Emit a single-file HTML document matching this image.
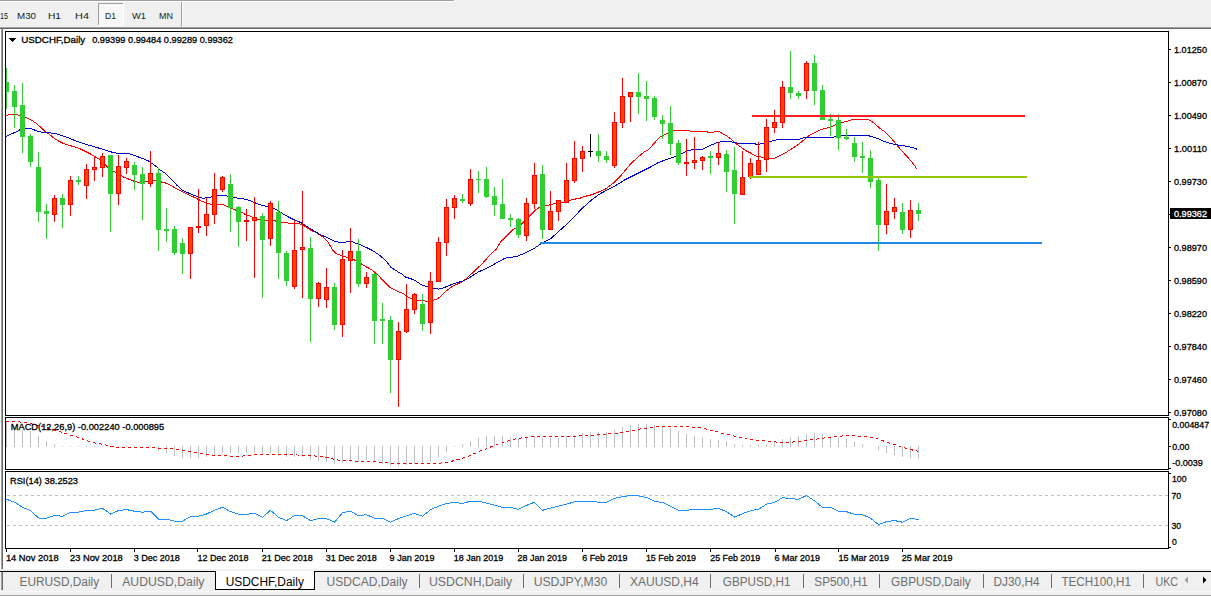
<!DOCTYPE html>
<html><head><meta charset="utf-8"><style>
html,body{margin:0;padding:0;width:1211px;height:596px;overflow:hidden;background:#fff}
svg{display:block}
text{font-family:'Liberation Sans', sans-serif;}
</style></head><body>
<svg width="1211" height="596" viewBox="0 0 1211 596" shape-rendering="crispEdges">
<defs><clipPath id="cmain"><rect x="6" y="32" width="1162" height="383"/></clipPath></defs>
<rect x="0" y="0" width="1211" height="29" fill="#f0f0f0"/>
<rect x="0" y="0" width="455" height="1" fill="#a0a0a0"/>
<rect x="0" y="1" width="455" height="1" fill="#ffffff"/>
<rect x="454" y="0" width="1" height="2" fill="#ffffff"/>
<rect x="98" y="3" width="26" height="23" fill="#f7f7f7"/>
<rect x="98" y="3" width="26" height="1" fill="#a0a0a0"/>
<rect x="98" y="3" width="1" height="23" fill="#a0a0a0"/>
<rect x="123" y="3" width="1" height="23" fill="#ffffff"/>
<rect x="98" y="25" width="26" height="1" fill="#ffffff"/>
<rect x="181" y="2" width="1" height="25" fill="#a0a0a0"/>
<rect x="182" y="2" width="1" height="25" fill="#ffffff"/>
<text x="0" y="19" font-size="9.6" fill="#1a1a1a" textLength="8" lengthAdjust="spacingAndGlyphs">15</text>
<text x="17" y="19" font-size="9.6" fill="#1a1a1a" textLength="19" lengthAdjust="spacingAndGlyphs">M30</text>
<text x="48" y="19" font-size="9.6" fill="#1a1a1a" textLength="13" lengthAdjust="spacingAndGlyphs">H1</text>
<text x="75" y="19" font-size="9.6" fill="#1a1a1a" textLength="14" lengthAdjust="spacingAndGlyphs">H4</text>
<text x="105" y="19" font-size="9.6" fill="#1a1a1a" textLength="11" lengthAdjust="spacingAndGlyphs">D1</text>
<text x="132" y="19" font-size="9.6" fill="#1a1a1a" textLength="14" lengthAdjust="spacingAndGlyphs">W1</text>
<text x="159" y="19" font-size="9.6" fill="#1a1a1a" textLength="14" lengthAdjust="spacingAndGlyphs">MN</text>
<rect x="0" y="27" width="1211" height="1" fill="#a0a0a0"/>
<rect x="0" y="28" width="1211" height="1" fill="#696969"/>
<rect x="0" y="29" width="1211" height="540" fill="#ffffff"/>
<rect x="1" y="29" width="1" height="541" fill="#a0a0a0"/>
<rect x="2" y="29" width="1" height="541" fill="#696969"/>
<g id="lines">
<line x1="7" y1="495.5" x2="1168" y2="495.5" stroke="#c0c0c0" stroke-width="1" stroke-dasharray="3 3" shape-rendering="crispEdges"/>
<line x1="7" y1="525.5" x2="1168" y2="525.5" stroke="#c0c0c0" stroke-width="1" stroke-dasharray="3 3" shape-rendering="crispEdges"/>
</g>
<g clip-path="url(#cmain)">
<polyline points="5.9,115.6 10.6,114.4 15.3,114.4 20.0,115.6 24.7,116.8 30.6,119.7 35.3,122.6 40.0,126.7 44.7,131.1 49.4,134.4 55.2,139.1 61.1,142.4 65.8,144.4 72.9,146.4 80.0,148.8 85.9,151.7 91.8,154.7 96.5,157.6 100.6,160.0 104.7,164.1 108.2,167.6 114.1,171.7 118.8,174.1 123.5,177.0 129.4,179.4 135.2,181.7 139.9,182.6 145.8,181.7 152.9,180.5 157.6,181.3 164.7,182.6 171.8,185.9 177.6,189.4 183.5,192.3 189.4,195.3 195.3,197.8 201.1,200.9 207.0,203.2 211.7,204.4 218.8,204.1 224.6,205.2 230.5,208.2 235.2,209.9 240.0,211.5 245.0,214.2 250.1,216.0 255.1,218.4 259.1,219.7 266.2,220.2 273.2,220.2 278.3,222.0 284.3,222.2 289.3,223.2 298.4,223.5 302.4,224.7 306.5,227.3 310.5,230.1 316.5,232.8 320.6,235.5 324.6,238.3 327.6,241.4 330.0,245.5 333.5,251.2 337.0,254.1 342.9,256.1 347.6,257.6 353.5,259.6 358.2,261.7 362.9,265.0 368.8,268.2 373.5,271.1 378.2,275.2 382.9,280.5 389.9,287.6 395.8,290.5 402.9,293.5 410.0,298.2 418.1,300.6 427.5,301.2 434.2,299.9 438.2,298.5 442.3,294.5 447.6,289.8 454.4,285.1 461.1,282.7 466.5,278.4 474.5,271.0 482.6,263.3 490.3,254.5 496.0,249.5 500.6,241.9 505.1,237.4 512.7,229.8 520.2,225.3 529.3,216.3 535.3,210.2 539.8,207.2 547.4,205.4 556.5,203.0 565.5,201.9 573.1,199.3 579.0,198.6 583.4,196.8 591.8,194.7 600.2,191.3 606.0,188.8 613.6,182.9 620.3,176.2 625.3,170.3 630.4,164.0 637.1,157.8 643.8,152.2 648.8,149.4 655.5,141.8 660.3,137.0 664.7,134.7 669.4,132.3 674.1,130.6 689.4,130.9 691.7,131.4 705.8,131.4 708.2,132.3 712.9,132.3 715.2,131.4 718.8,131.4 722.3,133.5 725.8,135.3 730.5,138.8 735.2,143.1 739.9,146.4 745.4,150.4 751.0,153.3 757.1,156.5 763.1,157.3 769.2,158.3 774.2,158.3 778.2,156.5 784.3,153.5 790.3,149.8 797.4,145.2 802.4,141.2 807.4,136.7 813.5,133.2 819.5,130.1 825.6,128.3 830.3,127.2 834.4,125.3 840.9,122.9 846.4,121.5 852.9,119.3 866.0,119.3 870.3,120.4 874.7,123.6 879.1,127.7 884.5,131.6 890.0,136.7 895.4,143.3 900.9,149.8 906.3,155.8 911.8,161.8 917.2,169.4" fill="none" stroke="#ff0000" stroke-width="1" shape-rendering="crispEdges"/>
<polyline points="5.9,136.5 11.8,133.8 17.6,131.1 20.0,129.7 24.7,128.5 31.1,128.5 37.6,131.4 44.7,132.6 54.1,133.2 61.1,135.3 69.3,138.1 75.2,140.8 80.0,142.4 87.1,144.7 94.1,146.7 101.2,148.8 108.2,151.2 115.3,152.9 120.0,153.5 128.2,153.5 134.1,155.3 141.1,158.0 148.2,160.8 152.9,164.1 157.6,167.4 160.0,169.8 164.7,172.9 171.8,180.0 177.6,185.9 182.3,190.3 188.2,192.9 194.1,195.3 198.8,197.4 203.5,198.2 209.4,197.4 218.8,195.3 225.8,195.5 230.5,197.4 240.0,198.3 246.0,199.3 250.1,200.6 256.1,203.3 262.2,205.6 267.2,206.3 273.2,208.3 279.3,211.3 284.3,214.7 289.3,217.4 295.4,220.4 300.4,222.4 304.5,224.7 309.5,228.3 314.5,231.1 320.6,234.8 326.6,237.3 330.0,239.0 334.7,241.4 339.4,242.3 345.3,242.3 347.6,241.4 351.2,241.4 355.9,243.2 360.6,245.0 365.3,247.0 371.1,249.7 377.0,253.5 381.7,257.0 386.4,261.5 391.1,267.6 395.8,270.5 401.7,274.0 406.4,277.6 410.0,278.3 415.4,280.8 420.8,284.4 426.1,286.5 432.8,288.1 438.2,289.1 443.6,287.8 450.3,285.1 457.0,282.7 463.8,280.8 470.5,277.0 478.5,271.9 485.3,269.0 491.5,265.7 497.6,262.3 505.1,258.2 517.2,256.3 526.3,252.5 535.3,247.7 541.4,243.4 550.4,238.9 558.0,232.1 565.5,225.3 571.6,219.6 576.1,214.7 583.4,207.2 591.8,199.7 598.5,194.7 606.9,190.1 615.3,185.8 625.3,179.6 633.7,175.4 642.1,171.2 650.5,167.0 658.9,162.3 667.0,159.4 675.3,156.4 681.2,153.7 688.2,150.5 695.3,149.4 702.3,149.4 709.4,145.8 716.4,142.9 722.3,141.5 730.5,141.7 735.2,142.7 739.9,143.5 750.0,143.5 755.1,143.7 756.1,144.4 760.1,144.0 764.1,143.2 769.2,141.7 773.2,140.7 778.2,139.4 799.4,139.4 801.4,138.4 805.4,137.4 833.6,137.4 834.4,136.2 842.0,135.3 866.0,135.3 871.4,136.4 878.0,138.6 884.5,141.6 891.1,143.6 897.6,144.9 906.3,146.2 912.9,147.6 917.2,149.3" fill="none" stroke="#0000cd" stroke-width="1" shape-rendering="crispEdges"/>
<rect x="6" y="68" width="1" height="41" fill="#32cd32"/>
<rect x="4" y="82" width="5" height="10" fill="#32cd32"/>
<rect x="14" y="85" width="1" height="43" fill="#32cd32"/>
<rect x="12" y="91" width="5" height="16" fill="#32cd32"/>
<rect x="22" y="83" width="1" height="70" fill="#32cd32"/>
<rect x="20" y="105" width="5" height="32" fill="#32cd32"/>
<rect x="30" y="134" width="1" height="33" fill="#32cd32"/>
<rect x="28" y="136" width="5" height="26" fill="#32cd32"/>
<rect x="38" y="152" width="1" height="70" fill="#32cd32"/>
<rect x="36" y="167" width="5" height="45" fill="#32cd32"/>
<rect x="46" y="204" width="1" height="35" fill="#32cd32"/>
<rect x="44" y="211" width="5" height="3" fill="#32cd32"/>
<rect x="54" y="195" width="1" height="27" fill="#ff0000"/>
<rect x="52" y="198" width="5" height="17" fill="#ff0000"/>
<rect x="53" y="199" width="3" height="15" fill="#ff4500"/>
<rect x="62" y="194" width="1" height="34" fill="#32cd32"/>
<rect x="60" y="198" width="5" height="7" fill="#32cd32"/>
<rect x="70" y="176" width="1" height="40" fill="#ff0000"/>
<rect x="68" y="180" width="5" height="25" fill="#ff0000"/>
<rect x="69" y="181" width="3" height="23" fill="#ff4500"/>
<rect x="78" y="176" width="1" height="9" fill="#32cd32"/>
<rect x="76" y="180" width="5" height="2" fill="#32cd32"/>
<rect x="86" y="164" width="1" height="35" fill="#ff0000"/>
<rect x="84" y="169" width="5" height="17" fill="#ff0000"/>
<rect x="85" y="170" width="3" height="15" fill="#ff4500"/>
<rect x="94" y="156" width="1" height="25" fill="#ff0000"/>
<rect x="92" y="167" width="5" height="3" fill="#ff0000"/>
<rect x="93" y="168" width="3" height="1" fill="#ff4500"/>
<rect x="102" y="153" width="1" height="24" fill="#ff0000"/>
<rect x="100" y="156" width="5" height="12" fill="#ff0000"/>
<rect x="101" y="157" width="3" height="10" fill="#ff4500"/>
<rect x="110" y="155" width="1" height="77" fill="#32cd32"/>
<rect x="108" y="155" width="5" height="39" fill="#32cd32"/>
<rect x="118" y="155" width="1" height="50" fill="#ff0000"/>
<rect x="116" y="166" width="5" height="28" fill="#ff0000"/>
<rect x="117" y="167" width="3" height="26" fill="#ff4500"/>
<rect x="126" y="158" width="1" height="16" fill="#ff0000"/>
<rect x="124" y="161" width="5" height="7" fill="#ff0000"/>
<rect x="125" y="162" width="3" height="5" fill="#ff4500"/>
<rect x="134" y="162" width="1" height="28" fill="#32cd32"/>
<rect x="132" y="165" width="5" height="10" fill="#32cd32"/>
<rect x="142" y="167" width="1" height="53" fill="#32cd32"/>
<rect x="140" y="174" width="5" height="10" fill="#32cd32"/>
<rect x="150" y="151" width="1" height="36" fill="#ff0000"/>
<rect x="148" y="173" width="5" height="11" fill="#ff0000"/>
<rect x="149" y="174" width="3" height="9" fill="#ff4500"/>
<rect x="158" y="168" width="1" height="83" fill="#32cd32"/>
<rect x="156" y="173" width="5" height="57" fill="#32cd32"/>
<rect x="166" y="208" width="1" height="34" fill="#32cd32"/>
<rect x="164" y="229" width="5" height="2" fill="#32cd32"/>
<rect x="174" y="226" width="1" height="29" fill="#32cd32"/>
<rect x="172" y="229" width="5" height="24" fill="#32cd32"/>
<rect x="182" y="238" width="1" height="36" fill="#32cd32"/>
<rect x="180" y="243" width="5" height="11" fill="#32cd32"/>
<rect x="190" y="227" width="1" height="52" fill="#ff0000"/>
<rect x="188" y="227" width="5" height="27" fill="#ff0000"/>
<rect x="189" y="228" width="3" height="25" fill="#ff4500"/>
<rect x="198" y="189" width="1" height="44" fill="#ff0000"/>
<rect x="196" y="226" width="5" height="2" fill="#ff0000"/>
<rect x="206" y="198" width="1" height="38" fill="#ff0000"/>
<rect x="204" y="214" width="5" height="12" fill="#ff0000"/>
<rect x="205" y="215" width="3" height="10" fill="#ff4500"/>
<rect x="214" y="173" width="1" height="51" fill="#ff0000"/>
<rect x="212" y="189" width="5" height="26" fill="#ff0000"/>
<rect x="213" y="190" width="3" height="24" fill="#ff4500"/>
<rect x="222" y="176" width="1" height="16" fill="#ff0000"/>
<rect x="220" y="177" width="5" height="13" fill="#ff0000"/>
<rect x="221" y="178" width="3" height="11" fill="#ff4500"/>
<rect x="230" y="174" width="1" height="58" fill="#32cd32"/>
<rect x="228" y="184" width="5" height="24" fill="#32cd32"/>
<rect x="238" y="206" width="1" height="41" fill="#32cd32"/>
<rect x="236" y="207" width="5" height="15" fill="#32cd32"/>
<rect x="246" y="209" width="1" height="32" fill="#ff0000"/>
<rect x="244" y="220" width="5" height="2" fill="#ff0000"/>
<rect x="254" y="197" width="1" height="81" fill="#ff0000"/>
<rect x="252" y="217" width="5" height="4" fill="#ff0000"/>
<rect x="253" y="218" width="3" height="2" fill="#ff4500"/>
<rect x="262" y="213" width="1" height="85" fill="#32cd32"/>
<rect x="260" y="216" width="5" height="24" fill="#32cd32"/>
<rect x="270" y="201" width="1" height="45" fill="#ff0000"/>
<rect x="268" y="203" width="5" height="36" fill="#ff0000"/>
<rect x="269" y="204" width="3" height="34" fill="#ff4500"/>
<rect x="278" y="201" width="1" height="78" fill="#32cd32"/>
<rect x="276" y="212" width="5" height="41" fill="#32cd32"/>
<rect x="286" y="251" width="1" height="35" fill="#32cd32"/>
<rect x="284" y="253" width="5" height="28" fill="#32cd32"/>
<rect x="294" y="220" width="1" height="69" fill="#ff0000"/>
<rect x="292" y="250" width="5" height="37" fill="#ff0000"/>
<rect x="293" y="251" width="3" height="35" fill="#ff4500"/>
<rect x="302" y="191" width="1" height="107" fill="#ff0000"/>
<rect x="300" y="247" width="5" height="3" fill="#ff0000"/>
<rect x="301" y="248" width="3" height="1" fill="#ff4500"/>
<rect x="310" y="237" width="1" height="105" fill="#32cd32"/>
<rect x="308" y="248" width="5" height="51" fill="#32cd32"/>
<rect x="318" y="282" width="1" height="25" fill="#ff0000"/>
<rect x="316" y="283" width="5" height="16" fill="#ff0000"/>
<rect x="317" y="284" width="3" height="14" fill="#ff4500"/>
<rect x="326" y="268" width="1" height="40" fill="#ff0000"/>
<rect x="324" y="287" width="5" height="13" fill="#ff0000"/>
<rect x="325" y="288" width="3" height="11" fill="#ff4500"/>
<rect x="334" y="283" width="1" height="47" fill="#32cd32"/>
<rect x="332" y="287" width="5" height="38" fill="#32cd32"/>
<rect x="342" y="250" width="1" height="87" fill="#ff0000"/>
<rect x="340" y="259" width="5" height="66" fill="#ff0000"/>
<rect x="341" y="260" width="3" height="64" fill="#ff4500"/>
<rect x="350" y="228" width="1" height="65" fill="#ff0000"/>
<rect x="348" y="251" width="5" height="10" fill="#ff0000"/>
<rect x="349" y="252" width="3" height="8" fill="#ff4500"/>
<rect x="358" y="239" width="1" height="48" fill="#32cd32"/>
<rect x="356" y="251" width="5" height="33" fill="#32cd32"/>
<rect x="366" y="272" width="1" height="16" fill="#ff0000"/>
<rect x="364" y="277" width="5" height="7" fill="#ff0000"/>
<rect x="365" y="278" width="3" height="5" fill="#ff4500"/>
<rect x="374" y="273" width="1" height="71" fill="#32cd32"/>
<rect x="372" y="274" width="5" height="47" fill="#32cd32"/>
<rect x="382" y="303" width="1" height="41" fill="#32cd32"/>
<rect x="380" y="319" width="5" height="2" fill="#32cd32"/>
<rect x="390" y="316" width="1" height="77" fill="#32cd32"/>
<rect x="388" y="320" width="5" height="40" fill="#32cd32"/>
<rect x="398" y="322" width="1" height="85" fill="#ff0000"/>
<rect x="396" y="331" width="5" height="29" fill="#ff0000"/>
<rect x="397" y="332" width="3" height="27" fill="#ff4500"/>
<rect x="406" y="284" width="1" height="49" fill="#ff0000"/>
<rect x="404" y="309" width="5" height="23" fill="#ff0000"/>
<rect x="405" y="310" width="3" height="21" fill="#ff4500"/>
<rect x="414" y="293" width="1" height="21" fill="#ff0000"/>
<rect x="412" y="294" width="5" height="16" fill="#ff0000"/>
<rect x="413" y="295" width="3" height="14" fill="#ff4500"/>
<rect x="422" y="294" width="1" height="37" fill="#32cd32"/>
<rect x="420" y="304" width="5" height="20" fill="#32cd32"/>
<rect x="430" y="272" width="1" height="62" fill="#ff0000"/>
<rect x="428" y="281" width="5" height="42" fill="#ff0000"/>
<rect x="429" y="282" width="3" height="40" fill="#ff4500"/>
<rect x="438" y="237" width="1" height="45" fill="#ff0000"/>
<rect x="436" y="242" width="5" height="40" fill="#ff0000"/>
<rect x="437" y="243" width="3" height="38" fill="#ff4500"/>
<rect x="446" y="199" width="1" height="57" fill="#ff0000"/>
<rect x="444" y="207" width="5" height="36" fill="#ff0000"/>
<rect x="445" y="208" width="3" height="34" fill="#ff4500"/>
<rect x="454" y="195" width="1" height="24" fill="#ff0000"/>
<rect x="452" y="198" width="5" height="10" fill="#ff0000"/>
<rect x="453" y="199" width="3" height="8" fill="#ff4500"/>
<rect x="462" y="194" width="1" height="9" fill="#32cd32"/>
<rect x="460" y="199" width="5" height="2" fill="#32cd32"/>
<rect x="470" y="169" width="1" height="37" fill="#ff0000"/>
<rect x="468" y="179" width="5" height="25" fill="#ff0000"/>
<rect x="469" y="180" width="3" height="23" fill="#ff4500"/>
<rect x="478" y="171" width="1" height="22" fill="#32cd32"/>
<rect x="476" y="179" width="5" height="1" fill="#32cd32"/>
<rect x="486" y="167" width="1" height="31" fill="#32cd32"/>
<rect x="484" y="179" width="5" height="18" fill="#32cd32"/>
<rect x="494" y="187" width="1" height="29" fill="#32cd32"/>
<rect x="492" y="196" width="5" height="9" fill="#32cd32"/>
<rect x="502" y="179" width="1" height="40" fill="#32cd32"/>
<rect x="500" y="204" width="5" height="15" fill="#32cd32"/>
<rect x="510" y="214" width="1" height="13" fill="#32cd32"/>
<rect x="508" y="218" width="5" height="2" fill="#32cd32"/>
<rect x="518" y="218" width="1" height="20" fill="#32cd32"/>
<rect x="516" y="219" width="5" height="16" fill="#32cd32"/>
<rect x="526" y="198" width="1" height="43" fill="#ff0000"/>
<rect x="524" y="203" width="5" height="33" fill="#ff0000"/>
<rect x="525" y="204" width="3" height="31" fill="#ff4500"/>
<rect x="534" y="163" width="1" height="46" fill="#ff0000"/>
<rect x="532" y="175" width="5" height="29" fill="#ff0000"/>
<rect x="533" y="176" width="3" height="27" fill="#ff4500"/>
<rect x="542" y="165" width="1" height="74" fill="#32cd32"/>
<rect x="540" y="174" width="5" height="56" fill="#32cd32"/>
<rect x="550" y="191" width="1" height="39" fill="#ff0000"/>
<rect x="548" y="211" width="5" height="19" fill="#ff0000"/>
<rect x="549" y="212" width="3" height="17" fill="#ff4500"/>
<rect x="558" y="200" width="1" height="21" fill="#ff0000"/>
<rect x="556" y="200" width="5" height="12" fill="#ff0000"/>
<rect x="557" y="201" width="3" height="10" fill="#ff4500"/>
<rect x="566" y="163" width="1" height="40" fill="#ff0000"/>
<rect x="564" y="180" width="5" height="23" fill="#ff0000"/>
<rect x="565" y="181" width="3" height="21" fill="#ff4500"/>
<rect x="574" y="141" width="1" height="42" fill="#ff0000"/>
<rect x="572" y="158" width="5" height="23" fill="#ff0000"/>
<rect x="573" y="159" width="3" height="21" fill="#ff4500"/>
<rect x="582" y="146" width="1" height="26" fill="#ff0000"/>
<rect x="580" y="151" width="5" height="8" fill="#ff0000"/>
<rect x="581" y="152" width="3" height="6" fill="#ff4500"/>
<rect x="590" y="134" width="1" height="23" fill="#000000"/>
<rect x="588" y="151" width="5" height="1" fill="#000000"/>
<rect x="598" y="134" width="1" height="28" fill="#32cd32"/>
<rect x="596" y="151" width="5" height="5" fill="#32cd32"/>
<rect x="606" y="151" width="1" height="12" fill="#32cd32"/>
<rect x="604" y="156" width="5" height="4" fill="#32cd32"/>
<rect x="614" y="112" width="1" height="56" fill="#ff0000"/>
<rect x="612" y="122" width="5" height="44" fill="#ff0000"/>
<rect x="613" y="123" width="3" height="42" fill="#ff4500"/>
<rect x="622" y="78" width="1" height="50" fill="#ff0000"/>
<rect x="620" y="96" width="5" height="27" fill="#ff0000"/>
<rect x="621" y="97" width="3" height="25" fill="#ff4500"/>
<rect x="630" y="92" width="1" height="30" fill="#ff0000"/>
<rect x="628" y="92" width="5" height="5" fill="#ff0000"/>
<rect x="629" y="93" width="3" height="3" fill="#ff4500"/>
<rect x="638" y="73" width="1" height="41" fill="#32cd32"/>
<rect x="636" y="92" width="5" height="5" fill="#32cd32"/>
<rect x="646" y="81" width="1" height="40" fill="#32cd32"/>
<rect x="644" y="96" width="5" height="3" fill="#32cd32"/>
<rect x="654" y="96" width="1" height="24" fill="#32cd32"/>
<rect x="652" y="98" width="5" height="19" fill="#32cd32"/>
<rect x="662" y="115" width="1" height="24" fill="#32cd32"/>
<rect x="660" y="120" width="5" height="4" fill="#32cd32"/>
<rect x="670" y="106" width="1" height="49" fill="#32cd32"/>
<rect x="668" y="123" width="5" height="21" fill="#32cd32"/>
<rect x="678" y="140" width="1" height="25" fill="#32cd32"/>
<rect x="676" y="143" width="5" height="20" fill="#32cd32"/>
<rect x="686" y="139" width="1" height="37" fill="#ff0000"/>
<rect x="684" y="162" width="5" height="2" fill="#ff0000"/>
<rect x="694" y="137" width="1" height="32" fill="#ff0000"/>
<rect x="692" y="160" width="5" height="3" fill="#ff0000"/>
<rect x="693" y="161" width="3" height="1" fill="#ff4500"/>
<rect x="702" y="156" width="1" height="14" fill="#ff0000"/>
<rect x="700" y="157" width="5" height="4" fill="#ff0000"/>
<rect x="701" y="158" width="3" height="2" fill="#ff4500"/>
<rect x="710" y="151" width="1" height="23" fill="#32cd32"/>
<rect x="708" y="156" width="5" height="2" fill="#32cd32"/>
<rect x="718" y="142" width="1" height="23" fill="#ff0000"/>
<rect x="716" y="153" width="5" height="5" fill="#ff0000"/>
<rect x="717" y="154" width="3" height="3" fill="#ff4500"/>
<rect x="726" y="150" width="1" height="42" fill="#32cd32"/>
<rect x="724" y="154" width="5" height="18" fill="#32cd32"/>
<rect x="734" y="147" width="1" height="77" fill="#32cd32"/>
<rect x="732" y="170" width="5" height="24" fill="#32cd32"/>
<rect x="742" y="151" width="1" height="44" fill="#ff0000"/>
<rect x="740" y="177" width="5" height="18" fill="#ff0000"/>
<rect x="741" y="178" width="3" height="16" fill="#ff4500"/>
<rect x="750" y="158" width="1" height="21" fill="#ff0000"/>
<rect x="748" y="163" width="5" height="14" fill="#ff0000"/>
<rect x="749" y="164" width="3" height="12" fill="#ff4500"/>
<rect x="758" y="142" width="1" height="33" fill="#ff0000"/>
<rect x="756" y="160" width="5" height="15" fill="#ff0000"/>
<rect x="757" y="161" width="3" height="13" fill="#ff4500"/>
<rect x="766" y="119" width="1" height="53" fill="#ff0000"/>
<rect x="764" y="127" width="5" height="33" fill="#ff0000"/>
<rect x="765" y="128" width="3" height="31" fill="#ff4500"/>
<rect x="774" y="110" width="1" height="23" fill="#ff0000"/>
<rect x="772" y="122" width="5" height="6" fill="#ff0000"/>
<rect x="773" y="123" width="3" height="4" fill="#ff4500"/>
<rect x="782" y="81" width="1" height="47" fill="#ff0000"/>
<rect x="780" y="87" width="5" height="36" fill="#ff0000"/>
<rect x="781" y="88" width="3" height="34" fill="#ff4500"/>
<rect x="790" y="51" width="1" height="48" fill="#32cd32"/>
<rect x="788" y="87" width="5" height="6" fill="#32cd32"/>
<rect x="798" y="91" width="1" height="8" fill="#32cd32"/>
<rect x="796" y="93" width="5" height="3" fill="#32cd32"/>
<rect x="806" y="61" width="1" height="38" fill="#ff0000"/>
<rect x="804" y="63" width="5" height="28" fill="#ff0000"/>
<rect x="805" y="64" width="3" height="26" fill="#ff4500"/>
<rect x="814" y="55" width="1" height="50" fill="#32cd32"/>
<rect x="812" y="63" width="5" height="28" fill="#32cd32"/>
<rect x="822" y="85" width="1" height="35" fill="#32cd32"/>
<rect x="820" y="90" width="5" height="30" fill="#32cd32"/>
<rect x="830" y="114" width="1" height="22" fill="#32cd32"/>
<rect x="828" y="119" width="5" height="2" fill="#32cd32"/>
<rect x="838" y="114" width="1" height="36" fill="#32cd32"/>
<rect x="836" y="120" width="5" height="18" fill="#32cd32"/>
<rect x="846" y="129" width="1" height="11" fill="#32cd32"/>
<rect x="844" y="137" width="5" height="2" fill="#32cd32"/>
<rect x="854" y="137" width="1" height="25" fill="#32cd32"/>
<rect x="852" y="143" width="5" height="14" fill="#32cd32"/>
<rect x="862" y="142" width="1" height="31" fill="#32cd32"/>
<rect x="860" y="156" width="5" height="2" fill="#32cd32"/>
<rect x="870" y="150" width="1" height="38" fill="#32cd32"/>
<rect x="868" y="158" width="5" height="24" fill="#32cd32"/>
<rect x="878" y="178" width="1" height="73" fill="#32cd32"/>
<rect x="876" y="180" width="5" height="45" fill="#32cd32"/>
<rect x="886" y="184" width="1" height="50" fill="#ff0000"/>
<rect x="884" y="211" width="5" height="14" fill="#ff0000"/>
<rect x="885" y="212" width="3" height="12" fill="#ff4500"/>
<rect x="894" y="198" width="1" height="21" fill="#ff0000"/>
<rect x="892" y="207" width="5" height="5" fill="#ff0000"/>
<rect x="893" y="208" width="3" height="3" fill="#ff4500"/>
<rect x="902" y="203" width="1" height="31" fill="#32cd32"/>
<rect x="900" y="212" width="5" height="18" fill="#32cd32"/>
<rect x="910" y="200" width="1" height="38" fill="#ff0000"/>
<rect x="908" y="210" width="5" height="20" fill="#ff0000"/>
<rect x="909" y="211" width="3" height="18" fill="#ff4500"/>
<rect x="918" y="203" width="1" height="18" fill="#32cd32"/>
<rect x="916" y="210" width="5" height="4" fill="#32cd32"/>
</g>
<rect x="752" y="115" width="273" height="2" fill="#ff2020"/>
<rect x="749" y="176" width="278" height="2" fill="#93c800"/>
<rect x="540" y="242" width="502" height="2" fill="#2088e6"/>
<rect x="6" y="422" width="1" height="25" fill="#c0c0c0"/>
<rect x="14" y="429" width="1" height="18" fill="#c0c0c0"/>
<rect x="22" y="430" width="1" height="17" fill="#c0c0c0"/>
<rect x="30" y="431" width="1" height="16" fill="#c0c0c0"/>
<rect x="38" y="436" width="1" height="11" fill="#c0c0c0"/>
<rect x="46" y="441" width="1" height="6" fill="#c0c0c0"/>
<rect x="54" y="444" width="1" height="3" fill="#c0c0c0"/>
<rect x="62" y="446" width="1" height="1" fill="#c0c0c0"/>
<rect x="70" y="446" width="1" height="1" fill="#c0c0c0"/>
<rect x="78" y="446" width="1" height="1" fill="#c0c0c0"/>
<rect x="86" y="446" width="1" height="1" fill="#c0c0c0"/>
<rect x="94" y="446" width="1" height="1" fill="#c0c0c0"/>
<rect x="102" y="446" width="1" height="1" fill="#c0c0c0"/>
<rect x="110" y="446" width="1" height="1" fill="#c0c0c0"/>
<rect x="118" y="446" width="1" height="1" fill="#c0c0c0"/>
<rect x="126" y="446" width="1" height="1" fill="#c0c0c0"/>
<rect x="134" y="446" width="1" height="1" fill="#c0c0c0"/>
<rect x="142" y="446" width="1" height="1" fill="#c0c0c0"/>
<rect x="150" y="446" width="1" height="1" fill="#c0c0c0"/>
<rect x="158" y="446" width="1" height="5" fill="#c0c0c0"/>
<rect x="166" y="446" width="1" height="7" fill="#c0c0c0"/>
<rect x="174" y="446" width="1" height="10" fill="#c0c0c0"/>
<rect x="182" y="446" width="1" height="12" fill="#c0c0c0"/>
<rect x="190" y="446" width="1" height="12" fill="#c0c0c0"/>
<rect x="198" y="446" width="1" height="12" fill="#c0c0c0"/>
<rect x="206" y="446" width="1" height="11" fill="#c0c0c0"/>
<rect x="214" y="446" width="1" height="9" fill="#c0c0c0"/>
<rect x="222" y="446" width="1" height="7" fill="#c0c0c0"/>
<rect x="230" y="446" width="1" height="7" fill="#c0c0c0"/>
<rect x="238" y="446" width="1" height="7" fill="#c0c0c0"/>
<rect x="246" y="446" width="1" height="7" fill="#c0c0c0"/>
<rect x="254" y="446" width="1" height="7" fill="#c0c0c0"/>
<rect x="262" y="446" width="1" height="8" fill="#c0c0c0"/>
<rect x="270" y="446" width="1" height="7" fill="#c0c0c0"/>
<rect x="278" y="446" width="1" height="9" fill="#c0c0c0"/>
<rect x="286" y="446" width="1" height="11" fill="#c0c0c0"/>
<rect x="294" y="446" width="1" height="11" fill="#c0c0c0"/>
<rect x="302" y="446" width="1" height="11" fill="#c0c0c0"/>
<rect x="310" y="446" width="1" height="14" fill="#c0c0c0"/>
<rect x="318" y="446" width="1" height="15" fill="#c0c0c0"/>
<rect x="326" y="446" width="1" height="16" fill="#c0c0c0"/>
<rect x="334" y="446" width="1" height="18" fill="#c0c0c0"/>
<rect x="342" y="446" width="1" height="17" fill="#c0c0c0"/>
<rect x="350" y="446" width="1" height="16" fill="#c0c0c0"/>
<rect x="358" y="446" width="1" height="16" fill="#c0c0c0"/>
<rect x="366" y="446" width="1" height="14" fill="#c0c0c0"/>
<rect x="374" y="446" width="1" height="15" fill="#c0c0c0"/>
<rect x="382" y="446" width="1" height="18" fill="#c0c0c0"/>
<rect x="390" y="446" width="1" height="20" fill="#c0c0c0"/>
<rect x="398" y="446" width="1" height="20" fill="#c0c0c0"/>
<rect x="406" y="446" width="1" height="19" fill="#c0c0c0"/>
<rect x="414" y="446" width="1" height="18" fill="#c0c0c0"/>
<rect x="422" y="446" width="1" height="18" fill="#c0c0c0"/>
<rect x="430" y="446" width="1" height="16" fill="#c0c0c0"/>
<rect x="438" y="446" width="1" height="11" fill="#c0c0c0"/>
<rect x="446" y="446" width="1" height="6" fill="#c0c0c0"/>
<rect x="454" y="446" width="1" height="1" fill="#c0c0c0"/>
<rect x="462" y="444" width="1" height="3" fill="#c0c0c0"/>
<rect x="470" y="441" width="1" height="6" fill="#c0c0c0"/>
<rect x="478" y="438" width="1" height="9" fill="#c0c0c0"/>
<rect x="486" y="436" width="1" height="11" fill="#c0c0c0"/>
<rect x="494" y="436" width="1" height="11" fill="#c0c0c0"/>
<rect x="502" y="436" width="1" height="11" fill="#c0c0c0"/>
<rect x="510" y="437" width="1" height="10" fill="#c0c0c0"/>
<rect x="518" y="438" width="1" height="9" fill="#c0c0c0"/>
<rect x="526" y="438" width="1" height="9" fill="#c0c0c0"/>
<rect x="534" y="436" width="1" height="11" fill="#c0c0c0"/>
<rect x="542" y="438" width="1" height="9" fill="#c0c0c0"/>
<rect x="550" y="438" width="1" height="9" fill="#c0c0c0"/>
<rect x="558" y="438" width="1" height="9" fill="#c0c0c0"/>
<rect x="566" y="436" width="1" height="11" fill="#c0c0c0"/>
<rect x="574" y="435" width="1" height="12" fill="#c0c0c0"/>
<rect x="582" y="433" width="1" height="14" fill="#c0c0c0"/>
<rect x="590" y="432" width="1" height="15" fill="#c0c0c0"/>
<rect x="598" y="432" width="1" height="15" fill="#c0c0c0"/>
<rect x="606" y="432" width="1" height="15" fill="#c0c0c0"/>
<rect x="614" y="430" width="1" height="17" fill="#c0c0c0"/>
<rect x="622" y="427" width="1" height="20" fill="#c0c0c0"/>
<rect x="630" y="425" width="1" height="22" fill="#c0c0c0"/>
<rect x="638" y="424" width="1" height="23" fill="#c0c0c0"/>
<rect x="646" y="424" width="1" height="23" fill="#c0c0c0"/>
<rect x="654" y="425" width="1" height="22" fill="#c0c0c0"/>
<rect x="662" y="426" width="1" height="21" fill="#c0c0c0"/>
<rect x="670" y="428" width="1" height="19" fill="#c0c0c0"/>
<rect x="678" y="431" width="1" height="16" fill="#c0c0c0"/>
<rect x="686" y="434" width="1" height="13" fill="#c0c0c0"/>
<rect x="694" y="436" width="1" height="11" fill="#c0c0c0"/>
<rect x="702" y="437" width="1" height="10" fill="#c0c0c0"/>
<rect x="710" y="439" width="1" height="8" fill="#c0c0c0"/>
<rect x="718" y="440" width="1" height="7" fill="#c0c0c0"/>
<rect x="726" y="441" width="1" height="6" fill="#c0c0c0"/>
<rect x="734" y="444" width="1" height="3" fill="#c0c0c0"/>
<rect x="742" y="445" width="1" height="2" fill="#c0c0c0"/>
<rect x="750" y="445" width="1" height="2" fill="#c0c0c0"/>
<rect x="758" y="445" width="1" height="2" fill="#c0c0c0"/>
<rect x="766" y="444" width="1" height="3" fill="#c0c0c0"/>
<rect x="774" y="442" width="1" height="5" fill="#c0c0c0"/>
<rect x="782" y="439" width="1" height="8" fill="#c0c0c0"/>
<rect x="790" y="437" width="1" height="10" fill="#c0c0c0"/>
<rect x="798" y="436" width="1" height="11" fill="#c0c0c0"/>
<rect x="806" y="434" width="1" height="13" fill="#c0c0c0"/>
<rect x="814" y="433" width="1" height="14" fill="#c0c0c0"/>
<rect x="822" y="434" width="1" height="13" fill="#c0c0c0"/>
<rect x="830" y="436" width="1" height="11" fill="#c0c0c0"/>
<rect x="838" y="438" width="1" height="9" fill="#c0c0c0"/>
<rect x="846" y="439" width="1" height="8" fill="#c0c0c0"/>
<rect x="854" y="442" width="1" height="5" fill="#c0c0c0"/>
<rect x="862" y="444" width="1" height="3" fill="#c0c0c0"/>
<rect x="878" y="446" width="1" height="4" fill="#c0c0c0"/>
<rect x="886" y="446" width="1" height="7" fill="#c0c0c0"/>
<rect x="894" y="446" width="1" height="9" fill="#c0c0c0"/>
<rect x="902" y="446" width="1" height="11" fill="#c0c0c0"/>
<rect x="910" y="446" width="1" height="12" fill="#c0c0c0"/>
<rect x="918" y="446" width="1" height="13" fill="#c0c0c0"/>
<polyline points="6.0,421.4 13.6,421.4 19.0,421.9 26.3,422.5 48.9,428.2 61.6,432.3 67.9,434.1 73.4,436.1 79.3,437.7 85.3,440.1 91.2,442.2 97.1,443.4 103.8,444.4 109.8,446.0 115.7,447.4 152.1,447.4 158.0,448.3 170.0,448.6 175.9,449.3 181.8,450.2 187.8,451.5 193.7,452.3 199.7,453.3 205.6,454.2 211.6,455.3 223.4,455.6 229.4,456.2 242.0,456.2 246.0,455.4 261.7,454.6 285.5,454.6 297.4,455.0 309.3,455.6 317.2,456.2 327.1,457.6 333.0,459.0 341.0,460.6 352.9,460.6 358.8,461.8 372.7,461.6 380.6,462.6 398.4,463.6 438.0,463.4 448.0,462.2 457.9,459.6 462.0,458.2 470.0,455.6 479.8,451.1 487.7,448.3 494.7,445.1 505.6,441.8 511.5,439.8 517.5,438.4 529.4,437.2 535.3,436.2 571.0,436.4 586.8,435.6 598.7,434.8 610.6,433.8 624.5,432.2 632.4,430.5 638.4,429.3 648.3,427.9 656.2,426.9 668.0,426.5 687.9,426.5 693.8,427.3 703.9,428.3 709.8,430.0 715.8,431.2 721.7,433.2 727.7,434.4 733.6,435.8 741.5,437.8 747.5,439.2 757.4,440.4 769.3,441.4 779.2,442.3 791.0,442.3 797.0,441.4 808.9,440.2 818.8,438.8 828.7,437.4 840.6,436.2 846.6,435.4 858.4,436.2 872.3,437.4 880.2,439.8 888.2,442.7 896.1,444.7 902.0,447.3 908.0,448.7 914.9,450.7 918.0,451.2" fill="none" stroke="#ff0000" stroke-width="1" stroke-dasharray="3 3" shape-rendering="crispEdges"/>
<polyline points="6.5,499.3 14.5,502.1 22.5,507.3 30.5,510.6 38.5,518.0 46.5,518.2 54.5,515.6 62.5,516.2 70.5,512.2 78.5,512.2 86.5,510.6 94.5,510.2 102.5,508.2 110.5,514.0 118.5,510.6 126.5,509.6 134.5,511.2 142.5,512.2 150.5,511.2 158.5,519.1 166.5,519.1 174.5,521.1 182.5,521.1 190.5,516.6 198.5,516.2 206.5,514.0 214.5,510.2 222.5,507.3 230.5,511.6 238.5,514.3 246.5,514.3 254.5,513.3 262.5,517.3 270.5,510.3 278.5,517.3 286.5,520.6 294.5,515.7 302.5,515.7 310.5,520.6 318.5,518.6 326.5,518.6 334.5,522.2 342.5,512.7 350.5,511.1 358.5,515.7 366.5,514.7 374.5,518.2 382.5,518.2 390.5,522.2 398.5,518.6 406.5,515.7 414.5,513.3 422.5,516.3 430.5,509.7 438.5,506.2 446.5,503.4 454.5,502.4 462.5,503.4 470.5,501.2 478.5,501.2 486.5,503.2 494.5,505.2 502.5,507.3 510.5,507.3 518.5,509.3 526.5,505.4 534.5,502.2 542.5,510.3 550.5,508.1 558.5,506.2 566.5,504.2 574.5,501.8 590.5,501.2 598.5,502.2 606.5,502.2 614.5,498.2 622.5,496.8 630.5,495.3 638.5,495.9 646.5,497.4 654.5,501.4 662.5,502.4 670.5,506.2 678.5,510.3 686.5,510.3 694.5,509.3 710.5,509.3 718.5,508.3 726.5,511.7 734.5,517.1 742.5,513.7 750.5,510.7 758.5,509.3 766.5,504.2 774.5,502.4 782.5,497.8 790.5,498.4 798.5,499.4 806.5,495.5 814.5,500.8 822.5,507.3 830.5,507.3 838.5,511.1 846.5,511.7 854.5,514.3 862.5,514.7 870.5,518.2 878.5,524.6 886.5,521.6 894.5,520.6 902.5,522.2 910.5,518.2 918.5,519.6" fill="none" stroke="#1e90ff" stroke-width="1" shape-rendering="crispEdges"/>
<rect x="5" y="31" width="1164" height="1" fill="#000"/>
<rect x="5" y="415" width="1164" height="1" fill="#000"/>
<rect x="5" y="31" width="1" height="385" fill="#000"/>
<rect x="1168" y="31" width="1" height="385" fill="#000"/>
<rect x="5" y="417" width="1164" height="1" fill="#000"/>
<rect x="5" y="469" width="1164" height="1" fill="#000"/>
<rect x="5" y="417" width="1" height="53" fill="#000"/>
<rect x="1168" y="417" width="1" height="53" fill="#000"/>
<rect x="5" y="471" width="1164" height="1" fill="#000"/>
<rect x="5" y="548" width="1164" height="1" fill="#000"/>
<rect x="5" y="471" width="1" height="78" fill="#000"/>
<rect x="1168" y="471" width="1" height="78" fill="#000"/>
<path d="M9,38 L16,38 L12.5,42 Z" fill="#000"/>
<text x="21.3" y="43" font-size="9.6" fill="#000" stroke="#000" stroke-width="0.3" textLength="63.9" lengthAdjust="spacingAndGlyphs">USDCHF,Daily</text>
<text x="92.2" y="43" font-size="9.6" fill="#000" stroke="#000" stroke-width="0.3" textLength="140.8" lengthAdjust="spacingAndGlyphs">0.99399 0.99484 0.99289 0.99362</text>
<text x="10.7" y="430" font-size="9.6" fill="#000" stroke="#000" stroke-width="0.3" textLength="153.5" lengthAdjust="spacingAndGlyphs">MACD(12,26,9) -0.002240 -0.000895</text>
<text x="10" y="484" font-size="9.6" fill="#000" stroke="#000" stroke-width="0.3" textLength="68" lengthAdjust="spacingAndGlyphs">RSI(14) 38.2523</text>
<rect x="1169" y="49" width="2" height="1" fill="#000"/>
<text x="1174" y="53" font-size="9.6" fill="#000" stroke="#000" stroke-width="0.3" textLength="33" lengthAdjust="spacingAndGlyphs">1.01250</text>
<rect x="1169" y="82" width="2" height="1" fill="#000"/>
<text x="1174" y="86" font-size="9.6" fill="#000" stroke="#000" stroke-width="0.3" textLength="33" lengthAdjust="spacingAndGlyphs">1.00870</text>
<rect x="1169" y="115" width="2" height="1" fill="#000"/>
<text x="1174" y="119" font-size="9.6" fill="#000" stroke="#000" stroke-width="0.3" textLength="33" lengthAdjust="spacingAndGlyphs">1.00490</text>
<rect x="1169" y="148" width="2" height="1" fill="#000"/>
<text x="1174" y="152" font-size="9.6" fill="#000" stroke="#000" stroke-width="0.3" textLength="33" lengthAdjust="spacingAndGlyphs">1.00110</text>
<rect x="1169" y="181" width="2" height="1" fill="#000"/>
<text x="1174" y="185" font-size="9.6" fill="#000" stroke="#000" stroke-width="0.3" textLength="33" lengthAdjust="spacingAndGlyphs">0.99730</text>
<rect x="1169" y="214" width="2" height="1" fill="#000"/>
<rect x="1169" y="247" width="2" height="1" fill="#000"/>
<text x="1174" y="251" font-size="9.6" fill="#000" stroke="#000" stroke-width="0.3" textLength="33" lengthAdjust="spacingAndGlyphs">0.98970</text>
<rect x="1169" y="280" width="2" height="1" fill="#000"/>
<text x="1174" y="284" font-size="9.6" fill="#000" stroke="#000" stroke-width="0.3" textLength="33" lengthAdjust="spacingAndGlyphs">0.98590</text>
<rect x="1169" y="313" width="2" height="1" fill="#000"/>
<text x="1174" y="317" font-size="9.6" fill="#000" stroke="#000" stroke-width="0.3" textLength="33" lengthAdjust="spacingAndGlyphs">0.98220</text>
<rect x="1169" y="346" width="2" height="1" fill="#000"/>
<text x="1174" y="350" font-size="9.6" fill="#000" stroke="#000" stroke-width="0.3" textLength="33" lengthAdjust="spacingAndGlyphs">0.97840</text>
<rect x="1169" y="379" width="2" height="1" fill="#000"/>
<text x="1174" y="383" font-size="9.6" fill="#000" stroke="#000" stroke-width="0.3" textLength="33" lengthAdjust="spacingAndGlyphs">0.97460</text>
<rect x="1169" y="412" width="2" height="1" fill="#000"/>
<text x="1174" y="416" font-size="9.6" fill="#000" stroke="#000" stroke-width="0.3" textLength="33" lengthAdjust="spacingAndGlyphs">0.97080</text>
<rect x="1170" y="208" width="41" height="11" fill="#000"/>
<text x="1174" y="217" font-size="9.6" fill="#fff" stroke="#fff" stroke-width="0.3" textLength="33" lengthAdjust="spacingAndGlyphs">0.99362</text>
<rect x="1169" y="419" width="2" height="1" fill="#000"/>
<text x="1172.2" y="428" font-size="9.6" fill="#000" stroke="#000" stroke-width="0.3" textLength="36.9" lengthAdjust="spacingAndGlyphs">0.004847</text>
<rect x="1169" y="446" width="2" height="1" fill="#000"/>
<text x="1172.2" y="450" font-size="9.6" fill="#000" stroke="#000" stroke-width="0.3" textLength="17.3" lengthAdjust="spacingAndGlyphs">0.00</text>
<rect x="1169" y="468" width="2" height="1" fill="#000"/>
<text x="1172.2" y="466" font-size="9.6" fill="#000" stroke="#000" stroke-width="0.3" textLength="30.7" lengthAdjust="spacingAndGlyphs">-0.0039</text>
<rect x="1169" y="473" width="2" height="1" fill="#000"/>
<text x="1172" y="482" font-size="9.6" fill="#000" stroke="#000" stroke-width="0.3" textLength="14.6" lengthAdjust="spacingAndGlyphs">100</text>
<text x="1171.4" y="499" font-size="9.6" fill="#000" stroke="#000" stroke-width="0.3" textLength="9.6" lengthAdjust="spacingAndGlyphs">70</text>
<text x="1171.4" y="529" font-size="9.6" fill="#000" stroke="#000" stroke-width="0.3" textLength="9.6" lengthAdjust="spacingAndGlyphs">30</text>
<rect x="1169" y="547" width="2" height="1" fill="#000"/>
<text x="1172" y="545" font-size="9.6" fill="#000" stroke="#000" stroke-width="0.3" textLength="4.8" lengthAdjust="spacingAndGlyphs">0</text>
<rect x="6" y="549" width="1" height="3" fill="#000"/>
<text x="5.9" y="561" font-size="9.6" fill="#000" stroke="#000" stroke-width="0.3" textLength="52.8" lengthAdjust="spacingAndGlyphs">14 Nov 2018</text>
<rect x="70" y="549" width="1" height="3" fill="#000"/>
<text x="70" y="561" font-size="9.6" fill="#000" stroke="#000" stroke-width="0.3" textLength="52.8" lengthAdjust="spacingAndGlyphs">23 Nov 2018</text>
<rect x="134" y="549" width="1" height="3" fill="#000"/>
<text x="133.7" y="561" font-size="9.6" fill="#000" stroke="#000" stroke-width="0.3" textLength="46.2" lengthAdjust="spacingAndGlyphs">3 Dec 2018</text>
<rect x="197" y="549" width="1" height="3" fill="#000"/>
<text x="197.4" y="561" font-size="9.6" fill="#000" stroke="#000" stroke-width="0.3" textLength="51.2" lengthAdjust="spacingAndGlyphs">12 Dec 2018</text>
<rect x="262" y="549" width="1" height="3" fill="#000"/>
<text x="261.7" y="561" font-size="9.6" fill="#000" stroke="#000" stroke-width="0.3" textLength="51.2" lengthAdjust="spacingAndGlyphs">21 Dec 2018</text>
<rect x="326" y="549" width="1" height="3" fill="#000"/>
<text x="325.7" y="561" font-size="9.6" fill="#000" stroke="#000" stroke-width="0.3" textLength="51.2" lengthAdjust="spacingAndGlyphs">31 Dec 2018</text>
<rect x="390" y="549" width="1" height="3" fill="#000"/>
<text x="389.6" y="561" font-size="9.6" fill="#000" stroke="#000" stroke-width="0.3" textLength="44.9" lengthAdjust="spacingAndGlyphs">9 Jan 2019</text>
<rect x="454" y="549" width="1" height="3" fill="#000"/>
<text x="453.8" y="561" font-size="9.6" fill="#000" stroke="#000" stroke-width="0.3" textLength="49.4" lengthAdjust="spacingAndGlyphs">18 Jan 2019</text>
<rect x="518" y="549" width="1" height="3" fill="#000"/>
<text x="517.6" y="561" font-size="9.6" fill="#000" stroke="#000" stroke-width="0.3" textLength="49.3" lengthAdjust="spacingAndGlyphs">28 Jan 2019</text>
<rect x="582" y="549" width="1" height="3" fill="#000"/>
<text x="582.2" y="561" font-size="9.6" fill="#000" stroke="#000" stroke-width="0.3" textLength="45.2" lengthAdjust="spacingAndGlyphs">6 Feb 2019</text>
<rect x="646" y="549" width="1" height="3" fill="#000"/>
<text x="645.9" y="561" font-size="9.6" fill="#000" stroke="#000" stroke-width="0.3" textLength="50.2" lengthAdjust="spacingAndGlyphs">15 Feb 2019</text>
<rect x="710" y="549" width="1" height="3" fill="#000"/>
<text x="710.2" y="561" font-size="9.6" fill="#000" stroke="#000" stroke-width="0.3" textLength="50" lengthAdjust="spacingAndGlyphs">25 Feb 2019</text>
<rect x="775" y="549" width="1" height="3" fill="#000"/>
<text x="774.6" y="561" font-size="9.6" fill="#000" stroke="#000" stroke-width="0.3" textLength="45.4" lengthAdjust="spacingAndGlyphs">6 Mar 2019</text>
<rect x="838" y="549" width="1" height="3" fill="#000"/>
<text x="838.4" y="561" font-size="9.6" fill="#000" stroke="#000" stroke-width="0.3" textLength="50.6" lengthAdjust="spacingAndGlyphs">15 Mar 2019</text>
<rect x="902" y="549" width="1" height="3" fill="#000"/>
<text x="901.8" y="561" font-size="9.6" fill="#000" stroke="#000" stroke-width="0.3" textLength="50.8" lengthAdjust="spacingAndGlyphs">25 Mar 2019</text>
<rect x="0" y="569" width="1211" height="2" fill="#f0f0f0"/>
<rect x="0" y="571" width="1211" height="1" fill="#000"/>
<rect x="0" y="572" width="1211" height="24" fill="#f0f0f0"/>
<rect x="2" y="572" width="1" height="18" fill="#696969"/>
<rect x="1" y="572" width="1" height="18" fill="#a0a0a0"/>
<rect x="0" y="595" width="1211" height="1" fill="#a0a0a0"/>
<rect x="0" y="591" width="1211" height="1" fill="#f9f9f9"/>
<rect x="215" y="571" width="100" height="19" fill="#ffffff"/>
<rect x="215" y="571" width="1" height="19" fill="#000"/>
<rect x="314" y="571" width="1" height="19" fill="#000"/>
<rect x="215" y="589" width="100" height="1" fill="#000"/>
<text x="19.5" y="586" font-size="12" fill="#6e6e6e" textLength="79.6" lengthAdjust="spacingAndGlyphs">EURUSD,Daily</text>
<text x="122.2" y="586" font-size="12" fill="#6e6e6e" textLength="82.3" lengthAdjust="spacingAndGlyphs">AUDUSD,Daily</text>
<text x="225.7" y="586" font-size="12" fill="#000" textLength="78.2" lengthAdjust="spacingAndGlyphs">USDCHF,Daily</text>
<text x="326.6" y="586" font-size="12" fill="#6e6e6e" textLength="81" lengthAdjust="spacingAndGlyphs">USDCAD,Daily</text>
<text x="429" y="586" font-size="12" fill="#6e6e6e" textLength="83.2" lengthAdjust="spacingAndGlyphs">USDCNH,Daily</text>
<text x="533.7" y="586" font-size="12" fill="#6e6e6e" textLength="73.6" lengthAdjust="spacingAndGlyphs">USDJPY,M30</text>
<text x="630" y="586" font-size="12" fill="#6e6e6e" textLength="68.7" lengthAdjust="spacingAndGlyphs">XAUUSD,H4</text>
<text x="722.8" y="586" font-size="12" fill="#6e6e6e" textLength="67.6" lengthAdjust="spacingAndGlyphs">GBPUSD,H1</text>
<text x="814.3" y="586" font-size="12" fill="#6e6e6e" textLength="53.6" lengthAdjust="spacingAndGlyphs">SP500,H1</text>
<text x="891" y="586" font-size="12" fill="#6e6e6e" textLength="79.7" lengthAdjust="spacingAndGlyphs">GBPUSD,Daily</text>
<text x="993.5" y="586" font-size="12" fill="#6e6e6e" textLength="46.1" lengthAdjust="spacingAndGlyphs">DJ30,H4</text>
<text x="1061.4" y="586" font-size="12" fill="#6e6e6e" textLength="69.6" lengthAdjust="spacingAndGlyphs">TECH100,H1</text>
<text x="1155.5" y="586" font-size="12" fill="#6e6e6e" textLength="22.5" lengthAdjust="spacingAndGlyphs">UKC</text>
<rect x="111" y="574" width="1" height="14" fill="#6d6d6d"/>
<rect x="419" y="574" width="1" height="14" fill="#6d6d6d"/>
<rect x="523" y="574" width="1" height="14" fill="#6d6d6d"/>
<rect x="619" y="574" width="1" height="14" fill="#6d6d6d"/>
<rect x="710" y="574" width="1" height="14" fill="#6d6d6d"/>
<rect x="803" y="574" width="1" height="14" fill="#6d6d6d"/>
<rect x="879" y="574" width="1" height="14" fill="#6d6d6d"/>
<rect x="983" y="574" width="1" height="14" fill="#6d6d6d"/>
<rect x="1051" y="574" width="1" height="14" fill="#6d6d6d"/>
<rect x="1143" y="574" width="1" height="14" fill="#6d6d6d"/>
<path d="M1188,576.5 L1188,583.5 L1184.5,580 Z" fill="#a0a0a0" shape-rendering="auto"/>
<path d="M1203,576.5 L1203,583.5 L1206.5,580 Z" fill="#000" shape-rendering="auto"/>
</svg>
</body></html>
